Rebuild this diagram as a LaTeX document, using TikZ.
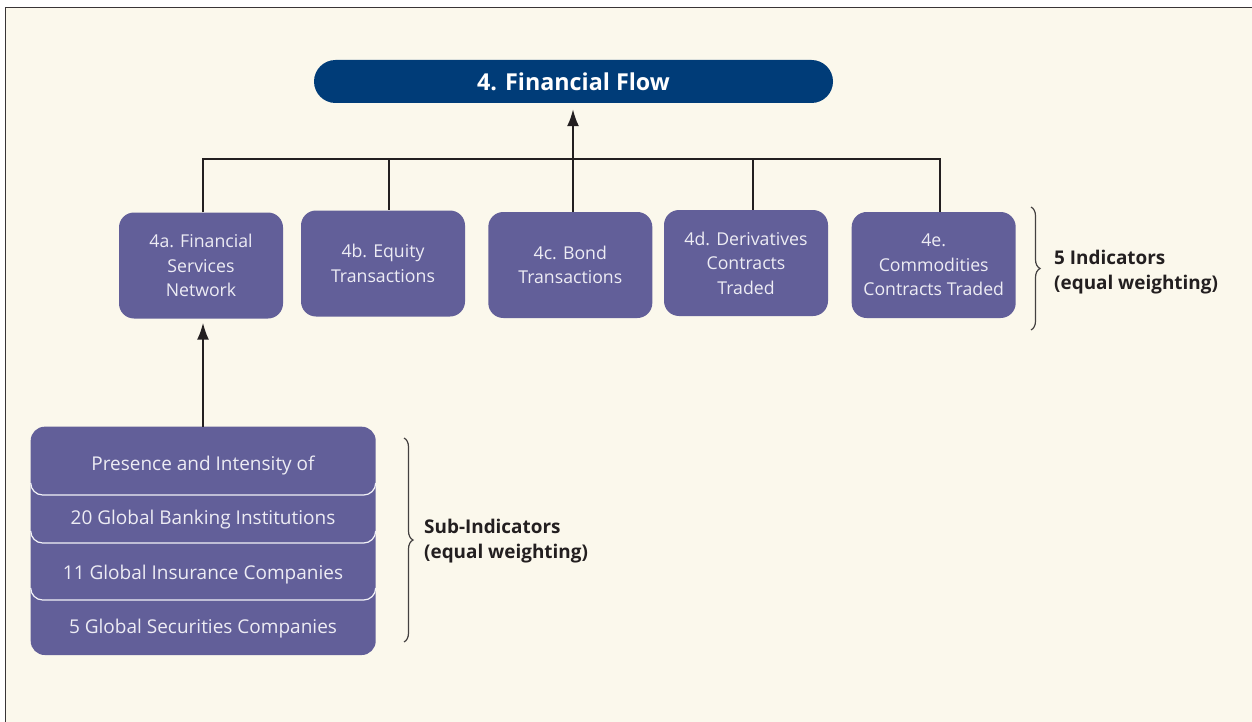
\documentclass[tikz,border=0pt]{standalone}
\usepackage{fontspec}
\setmainfont{Open Sans}
\usetikzlibrary{arrows.meta,decorations.pathreplacing,calc}
\definecolor{cream}{HTML}{FBF8EC}
\definecolor{boxpurple}{HTML}{625F99}
\definecolor{navy}{HTML}{003C78}
\definecolor{boxtext}{HTML}{EDECF4}
\definecolor{ink}{HTML}{231F20}
\begin{document}
\begin{tikzpicture}[x=1pt,y=-1pt,
  indbox/.style={fill=boxpurple, rounded corners=15pt, minimum width=164pt, minimum height=106pt, inner sep=0pt, text=boxtext, align=center, font=\fontsize{17.7}{24.5}\selectfont},
  link/.style={draw=ink, line width=2pt, line join=miter},
  up/.style={link, -{Latex[length=17pt,width=12pt]}},
  brc/.style={draw=ink!85, line width=1.2pt, decorate, decoration={brace, amplitude=9pt}},
  lbl/.style={font=\bfseries\fontsize{18.9}{25}\selectfont, text=ink, align=left, inner sep=0pt, anchor=west},
  stxt/.style={text=boxtext, font=\fontsize{19}{24}\selectfont, anchor=base, inner sep=0pt},
  sep/.style={draw=white!92!boxpurple, line width=1.2pt, rounded corners=12pt}]
\useasboundingbox (0,0) rectangle (1252,722);
\fill[cream] (5.5,7.5) rectangle (1252,722);
\draw[ink!90, line width=1.5pt] (5.5,722) -- (5.5,7.5) -- (1252,7.5);

% title
\node[fill=navy, rounded corners=21.5pt, minimum width=519pt, minimum height=43pt, inner sep=0pt, text=white, font=\bfseries\fontsize{23.3}{27}\selectfont] (title) at (573.5,81.5) {4. Financial Flow};

% indicator boxes
\node[indbox] (n4a) at (201,265.5) {4a. Financial\\Services\\Network};
\node[indbox] (n4b) at (383,263.5) {4b. Equity\\Transactions};
\node[indbox] (n4c) at (570.3,265) {4c. Bond\\Transactions};
\node[indbox] (n4d) at (746,263) {4d. Derivatives\\Contracts\\Traded};
\node[indbox] (n4e) at (933.7,265) {4e.\\Commodities\\Contracts Traded};

% bar
\coordinate (b1) at (203,159);
\coordinate (b2) at (389,159);
\coordinate (b3) at (573,159);
\coordinate (b4) at (752.7,159);
\coordinate (b5) at (940,159);
\draw[link] (b1 |- n4a.north) -- (b1) -- (b5) -- (b5 |- n4e.north);
\draw[link] (b2) -- (b2 |- n4b.north);
\draw[link] (b4) -- (b4 |- n4d.north);
\draw[up, shorten >=6pt] (b3 |- n4c.north) -- (b3 |- title.south);

% sub-indicator stack
\node[fill=boxpurple, rounded corners=14pt, minimum width=345pt, minimum height=228.3pt, inner sep=0pt] (stack) at (203.2,540.85) {};
\draw[sep] (30.7,483) -- (30.7,495) -- (375.7,495) -- (375.7,483);
\draw[sep] (30.7,531) -- (30.7,543) -- (375.7,543) -- (375.7,531);
\draw[sep] (30.7,588) -- (30.7,600) -- (375.7,600) -- (375.7,588);
\node[stxt] (s1) at (203,470) {Presence and Intensity of};
\node[stxt] (s2) at (203,524) {20 Global Banking Institutions};
\node[stxt] (s3) at (203,579) {11 Global Insurance Companies};
\node[stxt] (s4) at (203,633) {5 Global Securities Companies};

\draw[up, shorten >=4pt] (stack.north -| b1) -- (b1 |- n4a.south);

% braces and labels
\draw[brc] (1031,207) -- (1031,330);
\node[lbl] (ind) at (1054,272) {5 Indicators\\(equal weighting)};
\draw[brc] (404,438) -- (404,642);
\node[lbl] (sub) at (424,541.5) {Sub-Indicators\\(equal weighting)};
\end{tikzpicture}
\end{document}
